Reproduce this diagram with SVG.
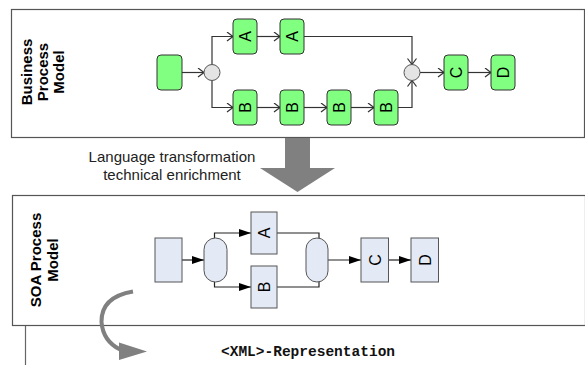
<svg xmlns="http://www.w3.org/2000/svg" width="585" height="365" viewBox="0 0 585 365">
  <style>
    .frame { fill: #ffffff; stroke: #555555; stroke-width: 1.2; }
    .task { fill: #80ff80; stroke: #333333; stroke-width: 1; }
    .gw { fill: #e4e4e4; stroke: #555555; stroke-width: 1; }
    .soa { fill: #e4eaf5; stroke: #555555; stroke-width: 1; }
    .lbl { font-family: "Liberation Sans", Arial, sans-serif; font-size: 16px; fill: #000000; text-anchor: middle; }
    .title { font-family: "Liberation Sans", Arial, sans-serif; font-size: 15px; font-weight: bold; fill: #000000; text-anchor: middle; }
    .note { font-family: "Liberation Sans", Arial, sans-serif; font-size: 15px; fill: #222222; text-anchor: middle; }
    .xml { font-family: "Liberation Mono", "Courier New", monospace; font-size: 14.5px; font-weight: bold; fill: #111111; }
    .flow { fill: none; stroke: #333333; stroke-width: 1.2; }
    .soaflow { fill: none; stroke: #222222; stroke-width: 1.2; }
    .big { fill: #808080; }
  </style>
  <defs>
    <marker id="open" markerUnits="userSpaceOnUse" markerWidth="10" markerHeight="12" refX="7" refY="5" orient="auto">
      <path d="M1,0.5 L7,5 L1,9.5" fill="none" stroke="#333333" stroke-width="1.2"/>
    </marker>
    <marker id="solid" markerUnits="userSpaceOnUse" markerWidth="14" markerHeight="10" refX="12" refY="4" orient="auto">
      <path d="M0,0 L12,4 L0,8 Z" fill="#000000"/>
    </marker>
  </defs>

  <!-- business process frame -->
  <g id="bpm-frame">
    <rect class="frame" x="11.5" y="9.5" width="573" height="128"/>
    <text class="title" transform="translate(31.5,72) rotate(-90)">Business</text>
    <text class="title" transform="translate(47.5,72) rotate(-90)">Process</text>
    <text class="title" transform="translate(63.5,72) rotate(-90)">Model</text>
  </g>

  <!-- connectors of the business process -->
  <g id="bpm-flows">
    <path class="flow" d="M182,72.5 H204" marker-end="url(#open)"/>
    <path class="flow" d="M212,64.5 V36.5 H233" marker-end="url(#open)"/>
    <path class="flow" d="M212,80.5 V107.5 H233" marker-end="url(#open)"/>
    <path class="flow" d="M257,36.5 H280" marker-end="url(#open)"/>
    <path class="flow" d="M257,107.5 H280" marker-end="url(#open)"/>
    <path class="flow" d="M304,107.5 H327" marker-end="url(#open)"/>
    <path class="flow" d="M351,107.5 H374" marker-end="url(#open)"/>
    <path class="flow" d="M304,36.5 H412 V64.5" marker-end="url(#open)"/>
    <path class="flow" d="M398,107.5 H412 V80.5" marker-end="url(#open)"/>
    <path class="flow" d="M420,72.5 H444" marker-end="url(#open)"/>
    <path class="flow" d="M468,72.5 H491" marker-end="url(#open)"/>
  </g>

  <!-- business process nodes -->
  <g id="bpm-start"><rect class="task" x="157" y="55" width="25" height="35" rx="4"/></g>
  <g id="bpm-split"><circle class="gw" cx="212" cy="72.5" r="8"/></g>
  <g id="bpm-a1"><rect class="task" x="233" y="19" width="24" height="35" rx="4"/><text class="lbl" transform="translate(250.5,36.5) rotate(-90)">A</text></g>
  <g id="bpm-a2"><rect class="task" x="280" y="19" width="24" height="35" rx="4"/><text class="lbl" transform="translate(297.5,36.5) rotate(-90)">A</text></g>
  <g id="bpm-b1"><rect class="task" x="233" y="90" width="24" height="35" rx="4"/><text class="lbl" transform="translate(250.5,107.5) rotate(-90)">B</text></g>
  <g id="bpm-b2"><rect class="task" x="280" y="90" width="24" height="35" rx="4"/><text class="lbl" transform="translate(297.5,107.5) rotate(-90)">B</text></g>
  <g id="bpm-b3"><rect class="task" x="327" y="90" width="24" height="35" rx="4"/><text class="lbl" transform="translate(344.5,107.5) rotate(-90)">B</text></g>
  <g id="bpm-b4"><rect class="task" x="374" y="90" width="24" height="35" rx="4"/><text class="lbl" transform="translate(391.5,107.5) rotate(-90)">B</text></g>
  <g id="bpm-join"><circle class="gw" cx="412" cy="72.5" r="8"/></g>
  <g id="bpm-c"><rect class="task" x="444" y="55" width="24" height="35" rx="4"/><text class="lbl" transform="translate(461.5,72.5) rotate(-90)">C</text></g>
  <g id="bpm-d"><rect class="task" x="491" y="55" width="24" height="35" rx="4"/><text class="lbl" transform="translate(508.5,72.5) rotate(-90)">D</text></g>

  <!-- transformation step -->
  <g id="transform">
    <path class="big" d="M285,138 H310 V168 H335 L297.5,192 L260,168 H285 Z"/>
    <text class="note" x="172" y="162">Language transformation</text>
    <text class="note" x="172" y="180">technical enrichment</text>
  </g>

  <!-- SOA process frame -->
  <g id="soa-frame">
    <rect class="frame" x="12.5" y="195.5" width="573" height="130"/>
    <text class="title" transform="translate(40.5,260) rotate(-90)">SOA Process</text>
    <text class="title" transform="translate(57.5,260) rotate(-90)">Model</text>
  </g>

  <!-- connectors of the SOA process -->
  <g id="soa-flows">
    <path class="soaflow" d="M182,260 H204" marker-end="url(#solid)"/>
    <path class="soaflow" d="M214.5,238 V233 H251" marker-end="url(#solid)"/>
    <path class="soaflow" d="M214.5,282 V287 H251" marker-end="url(#solid)"/>
    <path class="soaflow" d="M277,233 H319 V238"/>
    <path class="soaflow" d="M277,287 H319 V282"/>
    <path class="soaflow" d="M328,260 H361" marker-end="url(#solid)"/>
    <path class="soaflow" d="M388.5,260 H411" marker-end="url(#solid)"/>
  </g>

  <!-- SOA process nodes -->
  <g id="soa-start"><rect class="soa" x="155" y="238" width="27" height="44"/></g>
  <g id="soa-split"><rect class="soa" x="204" y="238" width="23" height="44" rx="11.5"/></g>
  <g id="soa-a"><rect class="soa" x="251" y="212" width="26" height="42"/><text class="lbl" transform="translate(269.5,233) rotate(-90)">A</text></g>
  <g id="soa-b"><rect class="soa" x="251" y="266" width="26" height="42"/><text class="lbl" transform="translate(269.5,287) rotate(-90)">B</text></g>
  <g id="soa-join"><rect class="soa" x="306" y="238" width="22" height="44" rx="11"/></g>
  <g id="soa-c"><rect class="soa" x="361" y="238" width="27.5" height="44"/><text class="lbl" transform="translate(380.5,260) rotate(-90)">C</text></g>
  <g id="soa-d"><rect class="soa" x="411" y="238" width="27.5" height="44"/><text class="lbl" transform="translate(430.5,260) rotate(-90)">D</text></g>

  <!-- XML representation layer -->
  <g id="xml-layer">
    <line x1="25.5" y1="326" x2="25.5" y2="365" stroke="#666666" stroke-width="1.2"/>
    <path d="M133,291.5 Q101,297 101.5,322 Q103,341 120,349.5" fill="none" stroke="#808080" stroke-width="4"/>
    <path class="big" d="M119,342.5 L147,351.5 L119,360 Z"/>
    <text class="xml" x="221" y="355.5">&lt;XML&gt;-Representation</text>
  </g>
</svg>
